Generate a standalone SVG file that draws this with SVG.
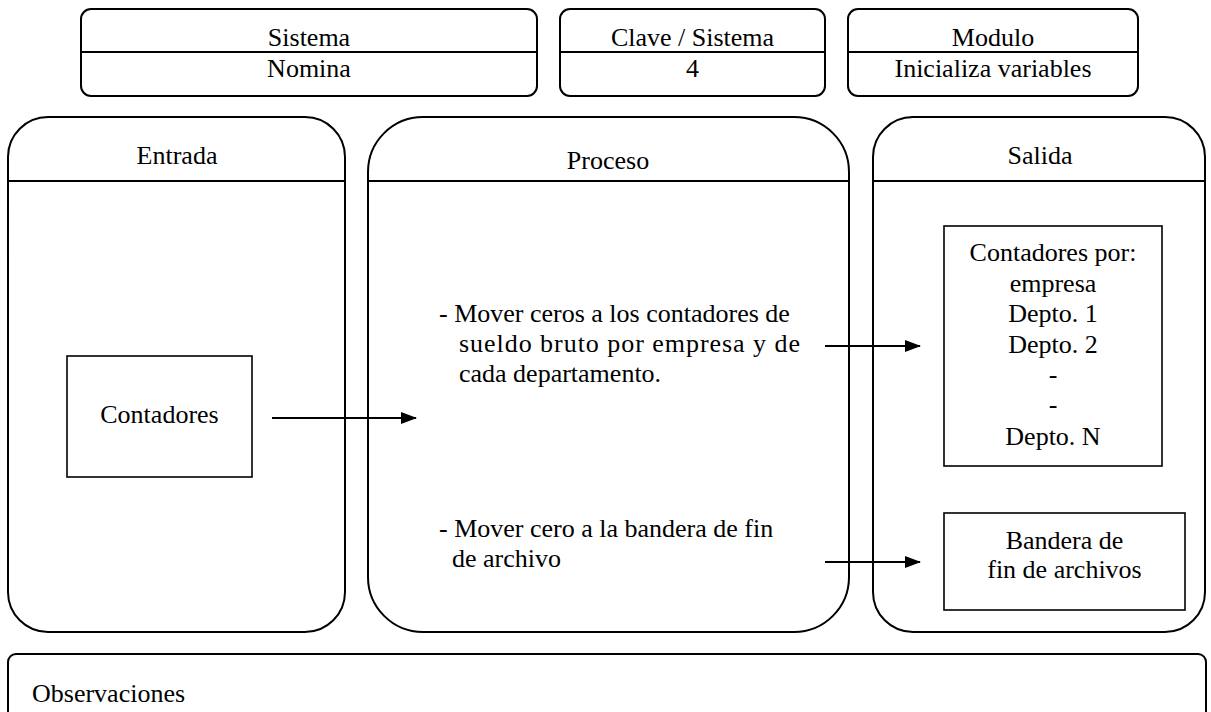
<svg xmlns="http://www.w3.org/2000/svg" width="1211" height="712" viewBox="0 0 1211 712">
<style>
  .frame{fill:#fff;stroke:#000;stroke-width:2}
  .box{fill:#fff;stroke:#000;stroke-width:1.6}
  .div{stroke:#000;stroke-width:2}
  .t{font-family:'Liberation Serif','DejaVu Serif',serif;font-size:26px;fill:#000}
  .c{text-anchor:middle}
  .conn{stroke:#000;stroke-width:2;fill:none;marker-end:url(#ah)}
</style>
<defs>
  <marker id="ah" markerWidth="16" markerHeight="12" refX="15" refY="6" orient="auto" markerUnits="userSpaceOnUse">
    <path d="M0,0 L16,6 L0,12 Z" fill="#000"/>
  </marker>
</defs>
<rect width="1211" height="712" fill="#fff"/>

<g id="sistema">
  <rect class="frame" x="81" y="9" width="456" height="87" rx="10"/>
  <line class="div" x1="81" y1="52" x2="537" y2="52"/>
  <text class="t c" x="309" y="46">Sistema</text>
  <text class="t c" x="309" y="77">Nomina</text>
</g>
<g id="clave">
  <rect class="frame" x="560" y="9" width="265" height="87" rx="10"/>
  <line class="div" x1="560" y1="52" x2="825" y2="52"/>
  <text class="t c" x="692.5" y="46">Clave / Sistema</text>
  <text class="t c" x="692.5" y="77">4</text>
</g>
<g id="modulo">
  <rect class="frame" x="848" y="9" width="290" height="87" rx="10"/>
  <line class="div" x1="848" y1="52" x2="1138" y2="52"/>
  <text class="t c" x="993" y="46">Modulo</text>
  <text class="t c" x="993" y="77">Inicializa variables</text>
</g>

<g id="entrada">
  <rect class="frame" x="8" y="117" width="337" height="515" rx="40"/>
  <line class="div" x1="8" y1="181" x2="345" y2="181"/>
  <text class="t c" x="177" y="164">Entrada</text>
</g>
<g id="proceso">
  <rect class="frame" x="368" y="117" width="481" height="515" rx="55"/>
  <line class="div" x1="368" y1="181" x2="849" y2="181"/>
  <text class="t c" x="608" y="169">Proceso</text>
  <text class="t" x="439" y="322">- Mover ceros a los contadores de</text>
  <text class="t" x="459" y="352" textLength="341" lengthAdjust="spacing">sueldo bruto por empresa y de</text>
  <text class="t" x="459" y="382">cada departamento.</text>
  <text class="t" x="439" y="537">- Mover cero a la bandera de fin</text>
  <text class="t" x="452" y="567">de archivo</text>
</g>
<g id="salida">
  <rect class="frame" x="873" y="117" width="332" height="515" rx="40"/>
  <line class="div" x1="873" y1="181" x2="1205" y2="181"/>
  <text class="t c" x="1040" y="164">Salida</text>
</g>

<g id="contadores">
  <rect class="box" x="67" y="356" width="185" height="121"/>
  <text class="t c" x="159.5" y="423">Contadores</text>
</g>
<g id="contadores-por">
  <rect class="box" x="944" y="226" width="218" height="240"/>
  <text class="t c" x="1053" y="261">Contadores por:</text>
  <text class="t c" x="1053" y="292">empresa</text>
  <text class="t c" x="1053" y="322">Depto. 1</text>
  <text class="t c" x="1053" y="353">Depto. 2</text>
  <text class="t c" x="1053" y="383">-</text>
  <text class="t c" x="1053" y="413">-</text>
  <text class="t c" x="1053" y="445">Depto. N</text>
</g>
<g id="bandera">
  <rect class="box" x="944" y="513" width="241" height="97"/>
  <text class="t c" x="1064.5" y="549">Bandera de</text>
  <text class="t c" x="1064.5" y="578">fin de archivos</text>
</g>

<g id="observaciones">
  <rect class="frame" x="8" y="654" width="1198" height="80" rx="8"/>
  <text class="t" x="32" y="702">Observaciones</text>
</g>

<g id="connectors">
  <line class="conn" x1="272" y1="418" x2="416" y2="418"/>
  <line class="conn" x1="825" y1="346" x2="920" y2="346"/>
  <line class="conn" x1="825" y1="562" x2="920" y2="562"/>
</g>
</svg>
